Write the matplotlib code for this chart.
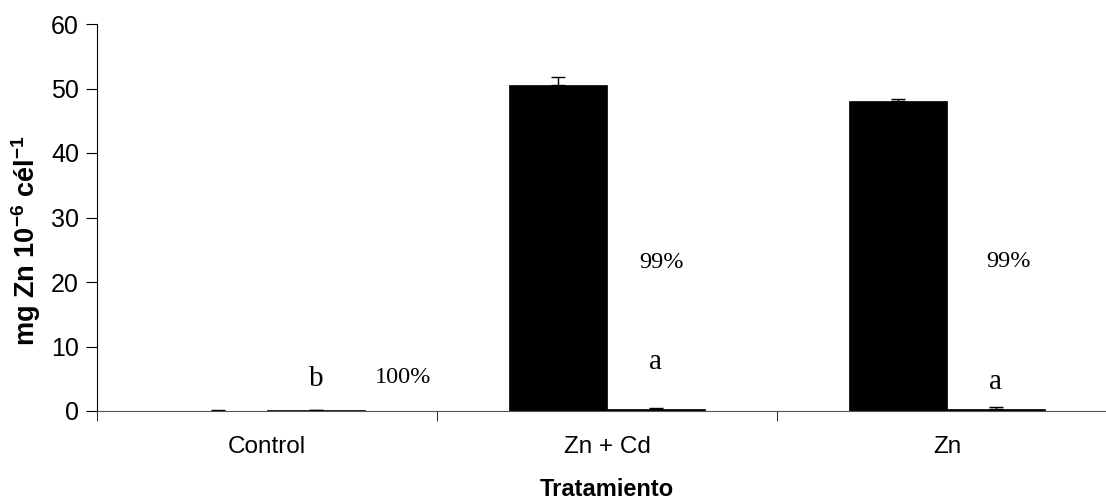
import numpy as np
import matplotlib.pyplot as plt

plt.rcParams["mathtext.fontset"] = "custom"
plt.rcParams["mathtext.rm"] = "Liberation Sans:bold"
plt.rcParams["mathtext.bf"] = "Liberation Sans:bold"

# === DATOS ===
categorias = ["Control", "Zn + Cd", "Zn"]
serie_1 = [0.05, 50.6, 48.0]      # barras negras
error_1 = [0.05, 1.2, 0.3]
serie_2 = [0.1, 0.3, 0.3]         # segunda serie (casi cero)
error_2 = [0.05, 0.1, 0.3]
letras = ["b", "a", "a"]
letras_y = [5.0, 7.6, 4.5]
porcentajes = ["100%", "99%", "99%"]
porcentajes_y = [5.2, 23.0, 23.2]
porcentajes_dx = [0.40, 0.16, 0.18]

# === FIGURA ===
fig = plt.figure(figsize=(11.06, 5.0), dpi=100)
ax = fig.add_axes([97 / 1106, 89 / 500, 1020 / 1106, 387 / 500])

x = np.arange(len(categorias))
w = 0.288

ax.bar(x - w / 2, serie_1, width=w, color="black", edgecolor="black", linewidth=0.5)
ax.bar(x + w / 2, serie_2, width=w, color="black", edgecolor="black", linewidth=0.5)
ax.errorbar(x - w / 2, serie_1, yerr=[np.zeros(3), error_1], fmt="none",
            ecolor="black", elinewidth=1, capsize=5, capthick=1)
ax.errorbar(x + w / 2, serie_2, yerr=[np.zeros(3), error_2], fmt="none",
            ecolor="black", elinewidth=1, capsize=5, capthick=1)

for i in range(len(categorias)):
    ax.text(x[i] + w / 2, letras_y[i], letras[i], family="Liberation Serif",
            fontsize=21, ha="center", va="center")
    ax.text(x[i] + porcentajes_dx[i], porcentajes_y[i], porcentajes[i],
            family="Liberation Serif", fontsize=17.5, ha="center", va="center")

ax.set_xlim(-0.5, 2.5)
ax.set_ylim(0, 60)
ax.set_yticks(np.arange(0, 61, 10))
ax.set_xticks(x)
ax.set_xticklabels(categorias, family="Liberation Sans", fontsize=17.5)
ax.set_xticks([-0.5, 0.5, 1.5, 2.5], minor=True)
ax.tick_params(axis="x", which="major", length=0, pad=18)
ax.tick_params(axis="x", which="minor", length=7, direction="out")
ax.tick_params(axis="y", length=8, direction="out", labelsize=18, pad=5)
for lab in ax.get_yticklabels():
    lab.set_family("Liberation Sans")

ax.spines["top"].set_visible(False)
ax.spines["right"].set_visible(False)
ax.spines["bottom"].set_color("#555555")

ax.set_ylabel(r"mg Zn 10$^{-6}$ cél$^{-1}$", family="Liberation Sans",
              fontsize=19.5, fontweight="bold")
ax.yaxis.set_label_coords(-0.053, 0.44)
ax.set_xlabel("Tratamiento", family="Liberation Sans", fontsize=17,
              fontweight="bold")
ax.xaxis.set_label_coords(0.5, -0.172)

fig.savefig("out.png", dpi=100)
